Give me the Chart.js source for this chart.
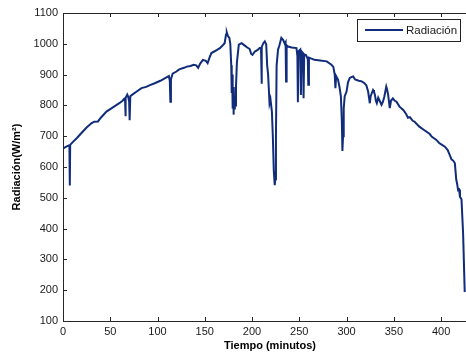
<!DOCTYPE html>
<html>
<head>
<meta charset="utf-8">
<script src="https://cdn.jsdelivr.net/npm/chart.js@4.4.1/dist/chart.umd.min.js"></script>
<style>
html,body{margin:0;padding:0;background:#fff;overflow:hidden;}
#wrap{position:relative;width:490px;height:358px;}
</style>
</head>
<body>
<div id="wrap"><canvas id="c"></canvas></div>
<script>
const seriesLabel = 'Radiación';
const timeMin = [0,3,6,6.8,7.2,7.6,10,15,20,25,30,33,37,40,46,52,56,60,63,65,65.6,66,66.5,68,69,70,70.5,71.2,73,78,83,88,92,97,103,109,112,113,113.6,114.2,116,120,123,128,131,135,138,141,143,145,148,151,153,155,157,160,163,166,169,171,172.5,173.3,174.5,176,177,178,178.5,179,179.5,180,180.3,180.8,181.2,181.8,182.3,183,184,186,189,192,195,197.5,199,200.5,203,206,208,209.5,210,210.5,212,213.5,215,216,217,218.5,219.5,221,222,223,224,224.6,225.3,226,227.5,229,231,233,234.6,235.5,236,236.6,238,242,247,248,248.5,249,251,251.7,252.4,254,254.5,255.2,257,259,259.5,260.2,261,263,266,272,279,284,286,287.5,288.2,289,291,292.5,294,295,295.6,296.3,297,298,300,301.5,303.4,305,307,309,313,316,319,321,322.8,324,324.6,325.5,328,329,330,331,332,333.5,335,337,338.5,340,342,343,344,345,345.7,347,349,351,352.8,356,360,363,365,367,370,372,377,382,388,390,395,398,401,404,407,409,411,413,414.6,416,417,418,419,420,421.6,423.3,425];
const radiation = [660,665,670,670,540,672,680,695,712,728,742,747,748,760,780,792,800,808,815,822,822,765,825,835,828,812,752,830,834,845,856,860,866,872,880,890,895,880,812,885,903,910,917,922,926,928,932,930,922,935,948,945,937,955,970,975,980,986,995,1002,1030,1037,1025,1019,1000,930,840,900,790,850,770,860,790,820,800,860,940,997,1002,995,988,983,968,964,975,980,986,986,870,990,1002,1008,998,930,900,807,820,780,700,590,541,560,700,930,981,995,1019,1012,1000,1005,878,995,991,988,986,960,810,975,981,834,975,970,823,965,964,950,867,955,954,952,948,946,943,932,925,899,856,895,883,860,829,750,652,700,790,829,845,875,889,892,894,884,880,878,872,865,845,820,807,830,850,845,834,815,807,825,815,802,812,829,861,850,834,810,791,815,823,815,812,796,785,772,760,762,750,747,731,720,707,699,688,678,672,666,655,640,625,620,612,560,545,525,527,503,495,384,194];
const xTickValues = [0,50,100,150,200,250,300,350,400];
const yTickValues = [100,200,300,400,500,600,700,800,900,1000,1100];
const xTitle = 'Tiempo (minutos)';
const yTitle = 'Radiación(W/m²)';

const lineColor = '#102c7a';
const axisColor = '#262626';
const FONT = '"Liberation Sans", Arial, sans-serif';

const points = timeMin.map((t,i)=>({x:t,y:radiation[i]}));

const decor = {
  id:'decor',
  afterDraw(chart){
    const {ctx, chartArea:a, scales:{x,y}} = chart;
    ctx.save();
    ctx.strokeStyle = axisColor;
    ctx.lineWidth = 1;
    ctx.beginPath();
    ctx.moveTo(a.left, Math.round(a.top)+0.5);
    ctx.lineTo(a.right, Math.round(a.top)+0.5);
    x.ticks.forEach(t=>{
      const px = Math.round(x.getPixelForValue(t.value))+0.5;
      ctx.moveTo(px, a.bottom); ctx.lineTo(px, a.bottom-4);
      ctx.moveTo(px, a.top); ctx.lineTo(px, a.top+4);
    });
    y.ticks.forEach(t=>{
      const py = Math.round(y.getPixelForValue(t.value))+0.5;
      ctx.moveTo(a.left, py); ctx.lineTo(a.left+4, py);
    });
    ctx.stroke();
    const ds = chart.data.datasets[0];
    const bx = 357, by = 19.5, bw = 103, bh = 22;
    ctx.fillStyle = '#fff';
    ctx.fillRect(bx, by, bw, bh);
    ctx.strokeStyle = '#222';
    ctx.strokeRect(bx+0.5, by, bw, bh);
    ctx.strokeStyle = ds.borderColor;
    ctx.lineWidth = 2;
    ctx.beginPath();
    ctx.moveTo(365, 30); ctx.lineTo(403, 30);
    ctx.stroke();
    ctx.fillStyle = '#1a1a1a';
    ctx.font = '11.5px ' + FONT;
    ctx.textBaseline = 'middle';
    ctx.textAlign = 'left';
    ctx.fillText(ds.label, 406, 30.5);
    ctx.restore();
  }
};

new Chart(document.getElementById('c'), {
  type:'line',
  data:{datasets:[{
    label: seriesLabel,
    data: points,
    borderColor: lineColor,
    borderWidth: 2,
    pointRadius: 0,
    tension: 0,
    fill: false
  }]},
  options:{
    responsive:true,
    maintainAspectRatio:false,
    devicePixelRatio:1,
    animation:false,
    layout:{padding:{left:0,top:13,right:13,bottom:0}},
    plugins:{legend:{display:false},tooltip:{enabled:false}},
    scales:{
      x:{
        type:'linear',
        min:0, max:438,
        afterBuildTicks(s){ s.ticks = xTickValues.map(v=>({value:v})); },
        afterFit(s){ s.height = 37; },
        grid:{display:true,drawOnChartArea:false,drawTicks:false},
        border:{display:true,color:axisColor,width:1},
        ticks:{color:'#1a1a1a',font:{family:FONT,size:11},padding:4,maxRotation:0,autoSkip:false,callback:v=>String(v)},
        title:{display:true,text:xTitle,color:'#000',font:{family:FONT,size:11,weight:'bold'},padding:{top:0,bottom:5}}
      },
      y:{
        type:'linear',
        min:100, max:1100,
        afterBuildTicks(s){ s.ticks = yTickValues.map(v=>({value:v})); },
        afterFit(s){ s.width = 63; },
        grid:{display:true,drawOnChartArea:false,drawTicks:false},
        border:{display:true,color:axisColor,width:1},
        ticks:{color:'#1a1a1a',font:{family:FONT,size:11},padding:5,autoSkip:false,callback:v=>String(v)},
        title:{display:true,text:yTitle,color:'#000',font:{family:FONT,size:11,weight:'bold'},padding:{top:10,bottom:0}}
      }
    }
  },
  plugins:[decor]
});
</script>
</body>
</html>
